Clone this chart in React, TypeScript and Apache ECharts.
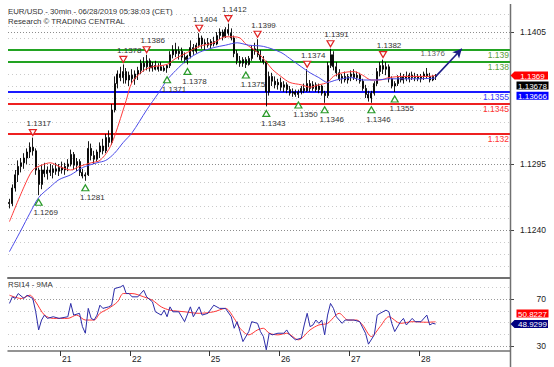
import { useEffect, useRef } from 'react';
import * as echarts from 'echarts';

const FONT = "'Liberation Sans',Arial,sans-serif";

const chartTitle = 'EUR/USD - 30min - 06/28/2019 05:38:03 (CET)';
const chartSubtitle = 'Research \u00A9 TRADING CENTRAL';
const rsiTitle = 'RSI14 - 9MA';

// sessions (day of month) and the number of slots each one takes on the axis
const sessionDays = ['20', '21', '22', '25', '26', '27', '28'];
const sessionSlots = [18, 24, 27, 24, 24, 24, 31];
const dayTickLabels = ['21', '22', '25', '26', '27', '28'];

// candles: [open, high, low, close]
const day20 = [
  [1.1263, 1.1266, 1.1258, 1.1262], [1.1262, 1.1278, 1.1260, 1.1275], [1.1275, 1.1290, 1.1272, 1.1286],
  [1.1286, 1.1298, 1.1280, 1.1293], [1.1293, 1.1300, 1.1288, 1.1296], [1.1296, 1.1304, 1.1291, 1.1300],
  [1.1300, 1.1308, 1.1295, 1.1305], [1.1305, 1.1313, 1.1300, 1.1309], [1.1309, 1.1317, 1.1302, 1.1306],
  [1.1306, 1.1308, 1.1286, 1.1290], [1.1290, 1.1292, 1.1269, 1.1278], [1.1278, 1.1294, 1.1274, 1.1290],
  [1.1290, 1.1296, 1.1284, 1.1287], [1.1287, 1.1293, 1.1282, 1.1290], [1.1290, 1.1295, 1.1285, 1.1288],
  [1.1288, 1.1294, 1.1283, 1.1291], [1.1291, 1.1296, 1.1286, 1.1289], [1.1289, 1.1295, 1.1285, 1.1292],
];
const day21 = [
  [1.1292, 1.1297, 1.1287, 1.1290], [1.1290, 1.1296, 1.1286, 1.1293], [1.1293, 1.1299, 1.1289, 1.1295],
  [1.1295, 1.1307, 1.1293, 1.1303], [1.1303, 1.1305, 1.1290, 1.1294], [1.1294, 1.1300, 1.1289, 1.1297],
  [1.1297, 1.1299, 1.1285, 1.1288], [1.1288, 1.1291, 1.1283, 1.1285], [1.1285, 1.1288, 1.1281, 1.1286],
  [1.1286, 1.1314, 1.1285, 1.1308], [1.1308, 1.1312, 1.1298, 1.1302], [1.1302, 1.1306, 1.1295, 1.1299],
  [1.1299, 1.1307, 1.1297, 1.1305], [1.1305, 1.1313, 1.1300, 1.1310], [1.1310, 1.1316, 1.1303, 1.1306],
  [1.1306, 1.1320, 1.1304, 1.1317], [1.1317, 1.1323, 1.1309, 1.1313], [1.1313, 1.1345, 1.1311, 1.1340],
  [1.1340, 1.1368, 1.1338, 1.1362], [1.1362, 1.1373, 1.1358, 1.1370], [1.1370, 1.1376, 1.1364, 1.1367],
  [1.1367, 1.1378, 1.1362, 1.1372], [1.1372, 1.1375, 1.1362, 1.1365], [1.1365, 1.1372, 1.1360, 1.1369],
];
const day22 = [
  [1.1369, 1.1374, 1.1362, 1.1366], [1.1366, 1.1373, 1.1361, 1.1370], [1.1370, 1.1376, 1.1365, 1.1373],
  [1.1373, 1.1382, 1.1370, 1.1379], [1.1379, 1.1384, 1.1372, 1.1376], [1.1376, 1.1386, 1.1373, 1.1381],
  [1.1381, 1.1383, 1.1372, 1.1375], [1.1375, 1.1380, 1.1372, 1.1377], [1.1377, 1.1381, 1.1373, 1.1374],
  [1.1374, 1.1379, 1.1372, 1.1376], [1.1376, 1.1380, 1.1373, 1.1373], [1.1373, 1.1377, 1.1372, 1.1375],
  [1.1375, 1.1378, 1.1371, 1.1377], [1.1377, 1.1389, 1.1375, 1.1386], [1.1386, 1.1394, 1.1383, 1.1390],
  [1.1390, 1.1396, 1.1384, 1.1387], [1.1387, 1.1393, 1.1382, 1.1389], [1.1389, 1.1392, 1.1381, 1.1384],
  [1.1384, 1.1388, 1.1379, 1.1382], [1.1382, 1.1386, 1.1378, 1.1385], [1.1385, 1.1398, 1.1383, 1.1392],
  [1.1392, 1.1395, 1.1386, 1.1389], [1.1389, 1.1396, 1.1387, 1.1394], [1.1394, 1.1404, 1.1392, 1.1400],
  [1.1400, 1.1402, 1.1391, 1.1395], [1.1395, 1.1399, 1.1390, 1.1396], [1.1396, 1.1400, 1.1392, 1.1394],
];
const day25 = [
  [1.1394, 1.1399, 1.1391, 1.1397], [1.1397, 1.1401, 1.1393, 1.1395], [1.1395, 1.1405, 1.1394, 1.1402],
  [1.1402, 1.1408, 1.1399, 1.1405], [1.1405, 1.1407, 1.1398, 1.1401], [1.1401, 1.1409, 1.1400, 1.1407],
  [1.1407, 1.1412, 1.1402, 1.1404], [1.1404, 1.1408, 1.1398, 1.1400], [1.1400, 1.1402, 1.1384, 1.1387],
  [1.1387, 1.1390, 1.1378, 1.1381], [1.1381, 1.1385, 1.1376, 1.1379], [1.1379, 1.1384, 1.1376, 1.1382],
  [1.1382, 1.1384, 1.1375, 1.1378], [1.1378, 1.1385, 1.1377, 1.1383], [1.1383, 1.1394, 1.1381, 1.1391],
  [1.1391, 1.1396, 1.1386, 1.1389], [1.1389, 1.1399, 1.1384, 1.1386], [1.1386, 1.1390, 1.1380, 1.1382],
  [1.1382, 1.1385, 1.1378, 1.1380], [1.1380, 1.1381, 1.1343, 1.1355], [1.1355, 1.1372, 1.1352, 1.1368],
  [1.1368, 1.1371, 1.1360, 1.1364], [1.1364, 1.1368, 1.1358, 1.1361], [1.1361, 1.1366, 1.1357, 1.1363],
];
const day26 = [
  [1.1363, 1.1367, 1.1356, 1.1359], [1.1359, 1.1364, 1.1355, 1.1361], [1.1361, 1.1363, 1.1354, 1.1357],
  [1.1357, 1.1360, 1.1352, 1.1354], [1.1354, 1.1358, 1.1351, 1.1355], [1.1355, 1.1357, 1.1351, 1.1353],
  [1.1353, 1.1357, 1.1350, 1.1355], [1.1355, 1.1360, 1.1353, 1.1358], [1.1358, 1.1362, 1.1354, 1.1356],
  [1.1356, 1.1374, 1.1355, 1.1362], [1.1362, 1.1365, 1.1355, 1.1358], [1.1358, 1.1364, 1.1356, 1.1361],
  [1.1361, 1.1363, 1.1355, 1.1357], [1.1357, 1.1362, 1.1354, 1.1360], [1.1360, 1.1361, 1.1352, 1.1354],
  [1.1354, 1.1356, 1.1346, 1.1352], [1.1352, 1.1380, 1.1350, 1.1377], [1.1377, 1.1391, 1.1375, 1.1386],
  [1.1386, 1.1389, 1.1373, 1.1376], [1.1376, 1.1380, 1.1368, 1.1371], [1.1371, 1.1374, 1.1364, 1.1366],
  [1.1366, 1.1370, 1.1362, 1.1368], [1.1368, 1.1372, 1.1363, 1.1365], [1.1365, 1.1370, 1.1362, 1.1368],
];
const day27 = [
  [1.1368, 1.1373, 1.1364, 1.1370], [1.1370, 1.1374, 1.1365, 1.1367], [1.1367, 1.1372, 1.1364, 1.1369],
  [1.1369, 1.1371, 1.1362, 1.1364], [1.1364, 1.1366, 1.1356, 1.1358], [1.1358, 1.1361, 1.1350, 1.1353],
  [1.1353, 1.1356, 1.1347, 1.1350], [1.1350, 1.1356, 1.1346, 1.1354], [1.1354, 1.1364, 1.1352, 1.1362],
  [1.1362, 1.1375, 1.1360, 1.1372], [1.1372, 1.1380, 1.1368, 1.1377], [1.1377, 1.1382, 1.1370, 1.1374],
  [1.1374, 1.1380, 1.1369, 1.1376], [1.1376, 1.1378, 1.1363, 1.1366], [1.1366, 1.1368, 1.1358, 1.1360],
  [1.1360, 1.1364, 1.1355, 1.1362], [1.1362, 1.1369, 1.1360, 1.1367], [1.1367, 1.1371, 1.1363, 1.1365],
  [1.1365, 1.1370, 1.1362, 1.1368], [1.1368, 1.1372, 1.1364, 1.1366], [1.1366, 1.1371, 1.1363, 1.1369],
  [1.1369, 1.1372, 1.1365, 1.1367], [1.1367, 1.1371, 1.1364, 1.1368], [1.1368, 1.1370, 1.1364, 1.1366],
];
const day28 = [
  [1.1366, 1.1370, 1.1363, 1.1368], [1.1368, 1.1372, 1.1365, 1.1370], [1.1370, 1.1375, 1.1366, 1.1368],
  [1.1368, 1.1371, 1.1363, 1.1365], [1.1365, 1.1369, 1.1364, 1.1368], [1.1368, 1.1370, 1.1365, 1.13678],
];

// moving averages: [bar index, value]
const fastMa = [
  [0, 1.1247], [5, 1.1276], [8, 1.1290], [11, 1.1294], [14, 1.1296], [17, 1.1293], [21, 1.1290], [24, 1.1293],
  [28, 1.1296], [31, 1.1298], [34, 1.1307], [36, 1.1318], [40, 1.1348], [42, 1.1363], [46, 1.1373], [49, 1.1376],
  [54, 1.1378], [57, 1.1383], [61, 1.1388], [65, 1.1393], [70, 1.1396], [74, 1.1401], [77, 1.1401], [79, 1.1400],
  [81, 1.1395], [85, 1.1388], [88, 1.1380], [90, 1.1374], [93, 1.1368], [96, 1.1363], [100, 1.1361], [103, 1.1359],
  [106, 1.1361], [109, 1.1363], [111, 1.1368], [114, 1.1371], [118, 1.1372], [121, 1.1369], [124, 1.1365],
  [127, 1.1365], [130, 1.1367], [135, 1.1368], [140, 1.1368], [144, 1.1368], [146, 1.1369],
];
const slowMa = [
  [0, 1.1222], [4, 1.1240], [7, 1.1254], [10, 1.1267], [14, 1.1276], [17, 1.1282], [21, 1.1286], [25, 1.1292],
  [30, 1.1296], [33, 1.1298], [36, 1.1304], [39, 1.1313], [42, 1.1321], [47, 1.1340], [51, 1.1354], [54, 1.1365],
  [57, 1.1373], [61, 1.1382], [65, 1.1388], [70, 1.1392], [74, 1.1394], [78, 1.1396], [82, 1.1394], [87, 1.1393],
  [93, 1.1388], [96, 1.1383], [100, 1.1376], [103, 1.1371], [106, 1.1367], [109, 1.1363], [112, 1.1365],
  [117, 1.1367], [121, 1.1365], [126, 1.1365], [130, 1.1366], [135, 1.1366], [140, 1.1366], [146, 1.13666],
];

// RSI(14) and its 9 MA: [bar index, value]
const rsi14 = [
  [0, 66.4], [1, 72], [2, 70.6], [3, 74.8], [5, 70.6], [6, 73.4], [8, 70.6], [9, 59.3], [10, 43.9], [11, 52.3],
  [12, 56.5], [13, 53.7], [15, 55.1], [17, 53.7], [20, 55.1], [21, 66.4], [22, 56.5], [24, 58], [25, 46.7],
  [26, 41.1], [27, 62.2], [28, 53.7], [29, 52.3], [30, 56.5], [31, 64.9], [32, 62.2], [34, 63.5], [35, 64.9],
  [36, 79], [38, 80.4], [39, 81.8], [40, 74.8], [41, 74.8], [42, 72], [44, 72], [46, 77.6], [47, 72], [49, 67.7],
  [50, 59.3], [52, 56.5], [53, 60.7], [54, 55.1], [55, 63.5], [56, 59.3], [58, 59.3], [60, 50.9], [62, 63.5],
  [63, 55.1], [65, 63.5], [66, 56.5], [68, 58], [70, 64.9], [72, 62.2], [74, 62.2], [76, 55.1], [77, 45.3],
  [78, 50.9], [79, 42.5], [80, 34], [82, 42.5], [83, 50.9], [85, 49.5], [86, 42.5], [87, 38.3], [88, 27],
  [89, 41.1], [90, 39.7], [92, 41.1], [94, 41.1], [95, 43.9], [96, 39.7], [98, 35.5], [100, 36.9], [101, 48.1],
  [102, 58], [103, 46.7], [104, 48.1], [105, 52.3], [106, 49.5], [107, 52.3], [108, 39.7], [109, 56.5],
  [110, 66.4], [111, 62.2], [112, 55.1], [114, 49.5], [115, 52.3], [118, 52.3], [120, 50.9], [122, 41.1],
  [123, 31.8], [125, 39.7], [126, 56.5], [127, 58], [129, 60.7], [130, 59.3], [131, 49.5], [132, 42.5],
  [134, 50.9], [135, 53.7], [136, 48.1], [138, 53.7], [139, 50.9], [141, 50.9], [143, 56.5], [144, 48.1],
  [145, 49.5], [146, 48.9299],
];
const rsiMa9 = [
  [0, 73.4], [4, 70.6], [7, 73.4], [9, 67.7], [12, 56.5], [15, 53.7], [20, 53.7], [23, 56.5], [26, 52.3],
  [29, 52.3], [31, 58], [34, 62.2], [37, 67.7], [39, 74.8], [42, 74.8], [46, 72], [49, 69.1], [52, 63.5],
  [55, 60.7], [60, 59.3], [65, 58], [70, 59.3], [74, 62.2], [77, 53.7], [79, 45.3], [82, 39.7], [85, 43.9],
  [87, 45.3], [89, 41.1], [92, 39.7], [95, 41.1], [99, 35.5], [103, 43.9], [106, 48.1], [109, 49.5], [113, 58],
  [116, 52.3], [119, 52.3], [121, 48.1], [124, 38.3], [127, 46.7], [130, 55.1], [134, 49.5], [138, 50.9],
  [143, 50.4], [146, 50.8227],
];

// pivots
const pivotHighs = [
  [8, 1.1317], [39, 1.1378], [47, 1.1386], [65, 1.1404], [75, 1.1412], [85, 1.1399], [102, 1.1374], [110, 1.1391], [128, 1.1382],
];
const pivotLows = [
  [10, 1.1269], [26, 1.1281], [54, 1.1371], [61, 1.1378], [81, 1.1375], [88, 1.1343], [99, 1.1350], [108, 1.1346], [124, 1.1346], [132, 1.1355],
];

// key levels
const resistanceLevels = [1.139, 1.138];
const pivotLevel = [1.1355];
const supportLevels = [1.1345, 1.132];

// projection arrow and its label
const projectionStart = [146, 1.13678];
const projectionEnd = [155, 1.1391];
const projectionLabel = '1.1376';
const projectionLabelAt = [145, 1.1387];

// axes
const priceTicks = [1.124, 1.1295, 1.1405];
const priceGrid = [1.121, 1.122, 1.123, 1.125, 1.126, 1.127, 1.128, 1.129, 1.13, 1.131, 1.132, 1.133, 1.134, 1.135, 1.136, 1.137, 1.138, 1.139, 1.14, 1.141, 1.142];
const rsiTicks = [30, 70];
const rsiGrid = [40, 50, 60, 80];

function buildOption() {
  const categories: string[] = [];
  sessionDays.forEach((d, di) => {
    for (let k = 0; k < sessionSlots[di]; k++) categories.push(d + '/' + k);
  });
  const candles = [...day20, ...day21, ...day22, ...day25, ...day26, ...day27, ...day28].map(
    ([o, h, l, c]) => [o, c, l, h]
  );
  const isDayStart = (_i: number, v: string) => {
    const [d, k] = String(v).split('/');
    return k === '0' && dayTickLabels.includes(d);
  };
  const lastClose = day28[day28.length - 1][3];
  const fastLast = fastMa[fastMa.length - 1][1];
  const slowLast = slowMa[slowMa.length - 1][1];
  const rsiLast = rsi14[rsi14.length - 1][1];
  const rsiMaLast = rsiMa9[rsiMa9.length - 1][1];

  const txt = (text: string, x: number, y: number, size: number, fill: string, align = 'left') => ({
    type: 'text', x, y, z: 50, silent: true,
    style: { text, fill, fontSize: size, fontFamily: FONT, align, verticalAlign: 'middle' },
  });
  const tag = (text: string, y: number, fill: string, arrow: boolean) => {
    const h = 8;
    const shape = arrow
      ? { type: 'polygon', shape: { points: [[510.5, y], [514.5, y - h / 2], [548, y - h / 2], [548, y + h / 2], [514.5, y + h / 2]] } }
      : { type: 'rect', shape: { x: 516.5, y: y - h / 2, width: 32, height: h } };
    return [
      { ...shape, z: 50, silent: true, style: { fill } },
      txt(text, 532.5, y + 0.5, 8, '#ffffff', 'center'),
    ];
  };

  const levelLine = (v: number, color: string, textColor: string) => ({
    yAxis: v,
    lineStyle: { color, width: 2, type: 'solid' },
    label: {
      show: true, position: 'insideEndBottom', formatter: String(v), color: textColor,
      fontSize: 8.5, fontFamily: FONT, distance: [1, 1],
    },
  });

  const axisLabelStyle = { fontSize: 8.5, fontFamily: FONT, color: '#222' };

  return {
    animation: false,
    backgroundColor: '#ffffff',
    grid: [
      { left: 8, right: 44, top: 4, height: 274 },
      { left: 8, right: 44, top: 278, height: 73 },
    ],
    xAxis: [
      {
        type: 'category', gridIndex: 0, data: categories, boundaryGap: true,
        axisLine: { show: true, lineStyle: { color: '#707070', width: 2 } },
        axisTick: { show: false }, axisLabel: { show: false }, splitLine: { show: false },
      },
      {
        type: 'category', gridIndex: 1, data: categories, boundaryGap: true,
        axisLine: { show: true, lineStyle: { color: '#707070', width: 1.5 } },
        axisTick: { show: true, interval: isDayStart, length: 5, lineStyle: { color: '#333' } },
        axisLabel: {
          interval: isDayStart, formatter: (v: string) => v.split('/')[0], align: 'left', margin: 3,
          ...axisLabelStyle,
        },
        splitLine: { show: false },
      },
    ],
    yAxis: [
      {
        type: 'value', gridIndex: 0, position: 'right', min: 1.12, max: 1.142833,
        axisLine: { show: false },
        axisTick: { show: true, customValues: priceTicks, length: 4, lineStyle: { color: '#444' } },
        axisLabel: { customValues: priceTicks, formatter: (v: number) => v.toFixed(4), align: 'right', margin: 36, ...axisLabelStyle },
        splitLine: { show: false },
      },
      {
        type: 'value', gridIndex: 1, position: 'right', min: 26, max: 88,
        axisLine: { show: false },
        axisTick: { show: true, customValues: rsiTicks, length: 4, lineStyle: { color: '#444' } },
        axisLabel: { customValues: rsiTicks, formatter: (v: number) => String(v), align: 'right', margin: 36, ...axisLabelStyle },
        splitLine: { show: false },
      },
    ],
    series: [
      {
        name: 'EUR/USD', type: 'candlestick', xAxisIndex: 0, yAxisIndex: 0, data: candles, z: 4,
        barWidth: 1.5,
        itemStyle: { color: '#000', color0: '#000', borderColor: '#000', borderColor0: '#000', borderWidth: 0.9 },
        markLine: {
          silent: true, symbol: 'none', z: 3, precision: 5,
          data: [
            ...resistanceLevels.map((v) => levelLine(v, '#22a322', '#5c9e3c')),
            ...pivotLevel.map((v) => levelLine(v, '#1a1aff', '#3a3aff')),
            ...supportLevels.map((v) => levelLine(v, '#ee2020', '#ff3535')),
          ],
        },
      },
      {
        name: 'MA fast', type: 'line', xAxisIndex: 0, yAxisIndex: 0, data: fastMa, z: 5,
        smooth: 0.3, symbol: 'none', lineStyle: { color: '#ff3b3b', width: 1 },
        markLine: {
          silent: true, symbol: 'none', z: 1, precision: 5, label: { show: false },
          lineStyle: { color: '#cacaca', width: 1, type: [1, 3] },
          data: [
            ...priceGrid.map((v) => ({ yAxis: v })),
            ...priceTicks.map((v) => ({ yAxis: v, lineStyle: { color: '#8c8c8c', width: 1, type: [1, 2] } })),
          ],
        },
      },
      {
        name: 'MA slow', type: 'line', xAxisIndex: 0, yAxisIndex: 0, data: slowMa, z: 5,
        smooth: 0.3, symbol: 'none', lineStyle: { color: '#4b4be8', width: 1 },
        markLine: {
          silent: true, z: 7, precision: 5, symbol: ['none', 'arrow'], symbolSize: [7, 9], label: { show: false },
          lineStyle: { color: '#1c1c86', width: 1.6, type: 'solid', curveness: -0.2 },
          data: [[{ coord: projectionStart }, { coord: projectionEnd }]],
        },
      },
      {
        name: 'Pivot highs', type: 'scatter', xAxisIndex: 0, yAxisIndex: 0, data: pivotHighs, z: 6,
        symbol: 'path://M0,0L10,0L5,9Z', symbolSize: [7, 6], symbolOffset: [0, -5],
        itemStyle: { color: '#ffffff', borderColor: '#e02424', borderWidth: 1.2, opacity: 1 },
        label: {
          show: true, position: 'inside', offset: [6, -9], color: '#333', fontSize: 8, fontFamily: FONT,
          formatter: (p: any) => p.value[1].toFixed(4),
        },
      },
      {
        name: 'Pivot lows', type: 'scatter', xAxisIndex: 0, yAxisIndex: 0, data: pivotLows, z: 6,
        symbol: 'path://M5,0L10,9L0,9Z', symbolSize: [7, 6], symbolOffset: [0, 7],
        itemStyle: { color: '#ffffff', borderColor: '#2a9a2a', borderWidth: 1.2, opacity: 1 },
        label: {
          show: true, position: 'inside', offset: [7, 10], color: '#333', fontSize: 8, fontFamily: FONT,
          formatter: (p: any) => p.value[1].toFixed(4),
        },
      },
      {
        name: 'Target', type: 'scatter', xAxisIndex: 0, yAxisIndex: 0, data: [projectionLabelAt], z: 6,
        symbolSize: 0,
        label: { show: true, position: 'inside', color: '#333', fontSize: 8, fontFamily: FONT, formatter: projectionLabel },
      },
      {
        name: 'RSI14', type: 'line', xAxisIndex: 1, yAxisIndex: 1, data: rsi14, z: 5,
        symbol: 'none', lineStyle: { color: '#2c2ca8', width: 1 },
        markLine: {
          silent: true, symbol: 'none', z: 1, precision: 3, label: { show: false },
          lineStyle: { color: '#cacaca', width: 1, type: [1, 3] },
          data: [
            ...rsiGrid.map((v) => ({ yAxis: v })),
            ...rsiTicks.map((v) => ({ yAxis: v, lineStyle: { color: '#9a9a9a', width: 1, type: [1, 2] } })),
          ],
        },
      },
      {
        name: '9MA', type: 'line', xAxisIndex: 1, yAxisIndex: 1, data: rsiMa9, z: 4,
        smooth: 0.3, symbol: 'none', lineStyle: { color: '#ff3535', width: 1 },
      },
    ],
    graphic: [
      { type: 'line', z: 40, silent: true, shape: { x1: 510.5, y1: 4, x2: 510.5, y2: 367 }, style: { stroke: '#707070', lineWidth: 1.5 } },
      txt(chartTitle, 8, 11, 7.8, '#333'),
      txt(chartSubtitle, 8, 21, 7.8, '#333'),
      txt(rsiTitle, 8, 284.5, 7.8, '#333'),
      ...tag(String(fastLast), 75.5, '#ff0000', true),
      ...tag(String(lastClose), 85.5, '#000000', false),
      ...tag(String(slowLast), 95.8, '#0000ff', false),
      ...tag(String(rsiMaLast), 313.5, '#ff0000', false),
      ...tag(String(rsiLast), 324, '#000080', true),
    ],
  };
}

export default function App() {
  const ref = useRef<HTMLDivElement>(null);
  useEffect(() => {
    const chart = echarts.init(ref.current!, null, { renderer: 'svg' });
    chart.setOption(buildOption() as any);
    return () => chart.dispose();
  }, []);
  return <div ref={ref} style={{ position: 'absolute', left: 0, top: 0, width: 554, height: 367 }} />;
}
